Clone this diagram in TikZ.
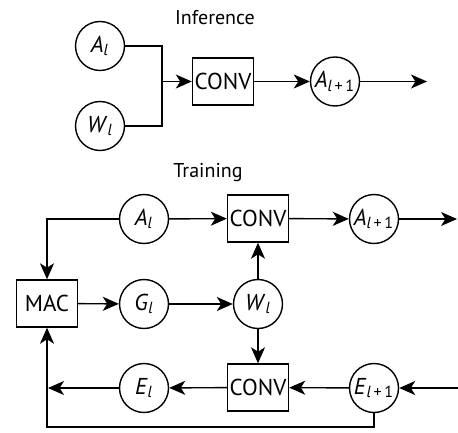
\documentclass[tikz,border=0pt]{standalone}
\usepackage{fontspec}
\setmainfont{PT Sans}
\usetikzlibrary{arrows.meta}
\tikzset{var/.style={circle,draw,line width=0.7pt,minimum size=24.5pt,inner sep=0pt,font=\fontsize{11.5}{13}\selectfont},
op/.style={rectangle,draw,line width=0.7pt,minimum width=30.5pt,minimum height=23.5pt,inner sep=1pt,font=\fontsize{11.5}{13}\selectfont},
flow/.style={->,line width=0.7pt},
wire/.style={line width=0.7pt},
title/.style={font=\fontsize{10}{12}\selectfont}}
\newcommand{\lvar}[1]{\textit{#1}\textsubscript{\textit{l}}}
\newcommand{\nvar}[1]{\textit{#1}\textsubscript{\textit{l}\,+\,1}}

\begin{document}
\begin{tikzpicture}[x=0.5pt,y=-0.5pt,>={Stealth[length=8pt,width=7pt,inset=2.2pt]}]
\useasboundingbox (0,0) rectangle (458,432);
% inference
\node[title] (tinf) at (215,18) {Inference};
\node[var] (ai) at (100,46) {\lvar{A}};
\node[var] (wi) at (100,126) {\lvar{W}};
\node[op] (convi) at (223,81.5) {CONV};
\node[var] (ani) at (335,81.5) {\nvar{A}};
\coordinate (jn) at (162,81.5);
\coordinate (outi) at (427,81.5);
\draw[wire] (ai) -| (jn);
\draw[wire] (wi) -| (jn);
\draw[flow] (jn) -- (convi);
\draw[flow] (convi) -- (ani);
\draw[flow] (ani) -- (outi);
% training
\node[title] (ttr) at (208,173) {Training};
\node[var] (at) at (144,219) {\lvar{A}};
\node[op] (conva) at (258,218.5) {CONV};
\node[var] (ant) at (374,219) {\nvar{A}};
\node[op] (mac) at (47,303.5) {MAC};
\node[var] (gt) at (144,304) {\lvar{G}};
\node[var] (wt) at (258,304) {\lvar{W}};
\node[var] (et) at (144,388) {\lvar{E}};
\node[op] (conve) at (258,387.5) {CONV};
\node[var] (ent) at (374,388) {\nvar{E}};
\coordinate (outa) at (457,219);
\coordinate (ine) at (458,388);
\coordinate (oute) at (48,388);
\coordinate (bot) at (47,427);
\draw[flow] (at) -- (conva);
\draw[flow] (conva) -- (ant);
\draw[flow] (ant) -- (outa);
\draw[flow] (at) -| (mac);
\draw[flow] (mac) -- (gt);
\draw[flow] (gt) -- (wt);
\draw[flow] (wt) -- (conva);
\draw[flow] (wt) -- (conve);
\draw[flow] (ine) -- (ent);
\draw[flow] (ent) -- (conve);
\draw[flow] (conve) -- (et);
\draw[flow] (et) -- (oute);
\draw[flow] (ent) |- (bot) -- (mac);
\end{tikzpicture}
\end{document}
